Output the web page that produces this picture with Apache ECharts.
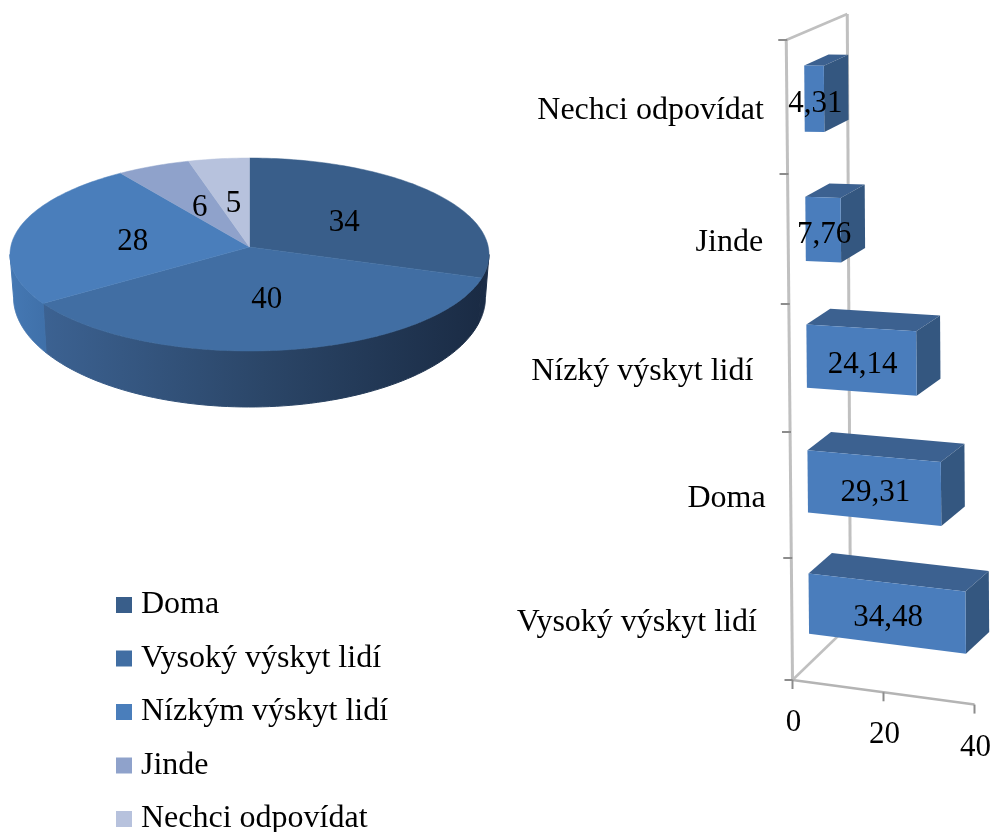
<!DOCTYPE html>
<html><head><meta charset="utf-8">
<style>html,body{margin:0;padding:0;background:#fff}#c{width:993px;height:832px}</style>
<script src="https://cdn.jsdelivr.net/npm/echarts@6/dist/echarts.min.js"></script>
</head><body><div id="c"></div>
<script>
// ---- data ----
const pieNames = ['Doma', 'Vysoký výskyt lidí', 'Nízkým výskyt lidí', 'Jinde', 'Nechci odpovídat'];
const pieValues = [34, 40, 28, 6, 5];
const barCategories = ['Vysoký výskyt lidí', 'Doma', 'Nízký výskyt lidí', 'Jinde', 'Nechci odpovídat'];
const barValues = [34.48, 29.31, 24.14, 7.76, 4.31];
const xTicks = [0, 20, 40];
// ---- styles ----
const pieTop = ['#395e8a', '#416ea3', '#4a7ebb', '#8fa2cb', '#b7c2dd'];
const FONT = '"Liberation Serif","Times New Roman",serif';
const FS = 31, FS_CAT = 32;
const chart = echarts.init(document.getElementById('c'), null, {renderer: 'canvas'});

// ---- pie perspective ----
const P = {ax: 249.5, ay: 247, A: 95.9, B: 238.8, k: 0.0777, cy: 254.5, rx: 239.5, ry: 96.5, rx2: 236, cy2: 297, ry2: 110};
const pieTotal = pieValues.reduce((a, b) => a + b, 0);
function topPt(theta, r) {
  const u = Math.sin(theta) * r, v = -Math.cos(theta) * r, den = 1 - P.k * v;
  return [P.ax + P.B * u / den, P.ay + P.A * v / den];
}
function lowPt(phi) { return [P.ax + P.rx2 * Math.sin(phi), P.cy2 + P.ry2 * Math.cos(phi)]; }
// rim parameter: 0 at the bottom of the ellipse, +90deg at the right extreme, -90deg at the left
function phiOf(theta) {
  const p = topPt(theta, 1);
  return Math.atan2((p[0] - P.ax) / P.rx, (p[1] - P.cy) / P.ry);
}
const wallStops = [
  [[0, '#1a2b44'], [1, '#1c2e49']],
  [[0, '#3c6292'], [0.5, '#2b4668'], [1, '#1a2b44']],
  [[0, '#4578b3'], [1, '#3f70a9']]
];
function pieRender(i) {
  return function () {
    const before = pieValues.slice(0, i).reduce((a, b) => a + b, 0);
    const t0 = before / pieTotal * 2 * Math.PI, t1 = (before + pieValues[i]) / pieTotal * 2 * Math.PI;
    const kids = [];
    if (i < 3) {
      const s = i === 0 ? Math.PI / 2 : phiOf(t0);
      const e = i === 2 ? -Math.PI / 2 : phiOf(t1);
      const sp = [], lp = [], n = 80;
      for (let j = 0; j <= n; j++) {
        const ph = s + (e - s) * j / n;
        sp.push([P.ax + P.rx * Math.sin(ph), P.cy + P.ry * Math.cos(ph)]);
        lp.push(lowPt(ph));
      }
      const grad = () => new echarts.graphic.LinearGradient(0, 0, 1, 0, wallStops[i].map(q => ({offset: q[0], color: q[1]})));
      kids.push({type: 'polygon', shape: {points: sp.concat(lp.reverse())},
        style: {fill: grad(), stroke: grad(), lineWidth: 1}});
    }
    const pts = [topPt(0, 0)];
    const m = Math.ceil((t1 - t0) / 0.02);
    for (let j = 0; j <= m; j++) pts.push(topPt(t0 + (t1 - t0) * j / m, 1));
    kids.push({type: 'polygon', z2: 5, shape: {points: pts}, style: {fill: pieTop[i], stroke: pieTop[i], lineWidth: 0.5}});
    const lab = topPt((t0 + t1) / 2, 0.5);
    kids.push({type: 'text', z2: 50, style: {text: String(pieValues[i]), x: lab[0], y: lab[1] + 3, align: 'center', verticalAlign: 'middle', fontSize: FS, fontFamily: FONT, fill: '#000'}});
    return {type: 'group', children: kids};
  };
}

// ---- bar projection: grid pixels -> tilted 3D box space ----
const GRID = {left: 793, top: 40, width: 182, height: 640};
const bandEdges = [680, 558, 432, 304, 174, 40];
function proj(px, py, d) {
  const x = px - GRID.left;
  const c = (GRID.top + GRID.height - py) / (GRID.height / 5);
  const ci = Math.min(4, Math.floor(c)), f = c - ci;
  const y0 = bandEdges[ci] + (bandEdges[ci + 1] - bandEdges[ci]) * f;
  const x0 = 792.5 - 1.25 * c;
  const s = 0.135 - 0.027 * c;
  return [x0 + x + (58 + 0.6 * c) * d, y0 + x * s - (56 - 6 * c) * d];
}
const D0 = 0.29, D1 = 0.69;
function barRender(params, api) {
  const i = api.value(1), v = api.value(0);
  const end = api.coord([v, i]), base = api.coord([0, i]);
  const h = api.size([0, 1])[1] / 4;
  const q = (pt, dy, d) => proj(pt[0], pt[1] + dy, d);
  const a = q(base, -h, D0), b = q(end, -h, D0), c = q(end, h, D0), e = q(base, h, D0);
  const a2 = q(base, -h, D1), b2 = q(end, -h, D1), c2 = q(end, h, D1);
  const mid = [(a[0] + b[0] + c[0] + e[0]) / 4, (a[1] + b[1] + c[1] + e[1]) / 4];
  return {type: 'group', children: [
    {type: 'polygon', shape: {points: [a, b, b2, a2]}, style: {fill: '#3c6190'}},
    {type: 'polygon', shape: {points: [b, c, c2, b2]}, style: {fill: '#345780'}},
    {type: 'polygon', shape: {points: [a, b, c, e]}, style: {fill: '#4a7dbc'}},
    {type: 'text', z2: 50, style: {text: v.toFixed(2).replace('.', ','), x: mid[0] + 1, y: mid[1] + 5, align: 'center', verticalAlign: 'middle', fontSize: FS, fontFamily: FONT, fill: '#000'}}
  ]};
}
const labelGaps = [35, 25, 36, 25, 23];
function frameRender(params, api) {
  const kids = [];
  const line = (p, q, col, w) => kids.push({type: 'line', shape: {x1: p[0], y1: p[1], x2: q[0], y2: q[1]}, style: {stroke: col, lineWidth: w}});
  const bl = [GRID.left, GRID.top + GRID.height], tl = [GRID.left, GRID.top];
  const wall = '#c0c0c0';
  line(proj(bl[0], bl[1], 0), proj(tl[0], tl[1], 0), wall, 3);
  line(proj(bl[0], bl[1], 1), proj(tl[0], tl[1], 1), wall, 3);
  line(proj(tl[0], tl[1], 0), proj(tl[0], tl[1], 1), wall, 2.5);
  line(proj(bl[0], bl[1], 0), proj(bl[0], bl[1], 1), wall, 2.5);
  const band = GRID.height / 5;
  for (let n = 0; n <= 5; n++) {
    const p = proj(GRID.left, bl[1] - band * n, 0);
    line([p[0] - 8, p[1]], [p[0] + 1, p[1]], '#8c8c8c', 2);
  }
  const xEnd = api.coord([xTicks[xTicks.length - 1], 0])[0];
  line(proj(bl[0], bl[1], 0), proj(xEnd, bl[1], 0), '#b4b4b4', 2.5);
  xTicks.forEach(t => {
    const p = proj(api.coord([t, 0])[0], bl[1], 0);
    line(p, [p[0], p[1] + 9], '#8c8c8c', 2);
    kids.push({type: 'text', style: {text: String(t), x: p[0] + 1, y: p[1] + 43, align: 'center', verticalAlign: 'middle', fontSize: FS, fontFamily: FONT, fill: '#000'}});
  });
  barCategories.forEach((name, n) => {
    const c = api.coord([0, n]);
    const p = proj(c[0], c[1], 0);
    kids.push({type: 'text', style: {text: name, x: p[0] - labelGaps[n], y: p[1] + 4, align: 'right', verticalAlign: 'middle', fontSize: FS_CAT, fontFamily: FONT, fill: '#000'}});
  });
  return {type: 'group', children: kids};
}

const pieSeries = pieNames.map((n, i) => ({
  type: 'custom', name: n, coordinateSystem: 'none', silent: true, animation: false, clip: false,
  itemStyle: {color: pieTop[i]},
  data: [[pieValues[i]]], renderItem: pieRender(i)
}));

chart.setOption({
  animation: false,
  backgroundColor: '#fff',
  legend: {
    data: pieNames, orient: 'vertical', left: 116, top: 589, height: 400, width: 300, padding: 0, itemWidth: 16, itemHeight: 16, itemGap: 21.5,
    icon: 'rect', selectedMode: false,
    textStyle: {fontFamily: FONT, fontSize: FS_CAT, color: '#000', padding: [0, 0, 0, 4]}
  },
  grid: GRID,
  xAxis: {type: 'value', min: 0, max: 40, interval: 20, show: false},
  yAxis: {type: 'category', data: barCategories, show: false},
  series: pieSeries.concat([
    {type: 'custom', name: 'frame', coordinateSystem: 'cartesian2d', silent: true, clip: false, z: 1, data: [[0, 0]], renderItem: frameRender},
    {type: 'custom', name: 'bars', coordinateSystem: 'cartesian2d', silent: true, clip: false, z: 2, encode: {x: 0, y: 1},
      data: barValues.map((v, i) => [v, i]), renderItem: barRender}
  ])
});
</script></body></html>
